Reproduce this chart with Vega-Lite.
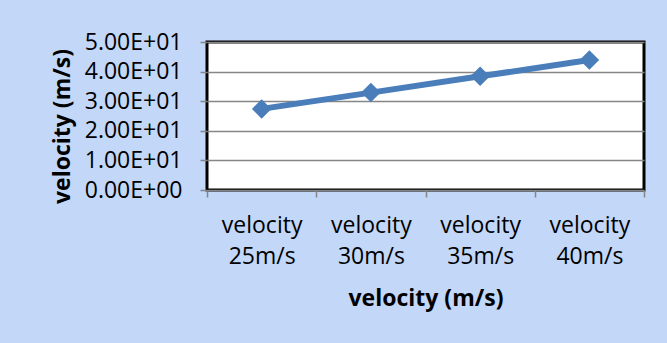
{
  "$schema": "https://vega.github.io/schema/vega-lite/v6.json",
  "width": 437,
  "height": 148,
  "autosize": {"type": "none"},
  "padding": {"left": 207, "top": 42, "right": 23, "bottom": 153},
  "background": "#c3d7f9",
  "config": {
    "view": {"fill": "white", "stroke": "black", "strokeWidth": 3},
    "font": "Open Sans"
  },
  "data": {
    "values": [
      {"category": "velocity 25m/s", "velocity": 27.4},
      {"category": "velocity 30m/s", "velocity": 32.9},
      {"category": "velocity 35m/s", "velocity": 38.4},
      {"category": "velocity 40m/s", "velocity": 43.9}
    ]
  },
  "encoding": {
    "x": {
      "field": "category",
      "type": "nominal",
      "sort": null,
      "bandPosition": 0.5,
      "scale": {"type": "band", "paddingInner": 0, "paddingOuter": 0},
      "axis": {
        "title": "velocity (m/s)",
        "labelAngle": 0,
        "labelExpr": "split(datum.label, ' ')",
        "labelFont": "Open Sans",
        "labelFontSize": 23,
        "labelColor": "black",
        "labelLineHeight": 31,
        "labelPadding": 17,
        "tickBand": "extent",
        "tickSize": 7,
        "tickColor": "#868686",
        "tickWidth": 1.5,
        "domain": false,
        "grid": false,
        "titleFont": "Open Sans",
        "titleFontSize": 23,
        "titleFontWeight": "bold",
        "titleColor": "black",
        "titlePadding": 19
      }
    },
    "y": {
      "field": "velocity",
      "type": "quantitative",
      "scale": {"domain": [0, 50]},
      "axis": {
        "title": "velocity (m/s)",
        "values": [0, 10, 20, 30, 40, 50],
        "labelExpr": "datum.value == 0 ? '0.00E+00' : format(datum.value / 10, '.2f') + 'E+01'",
        "labelFont": "Open Sans",
        "labelFontSize": 23,
        "labelColor": "black",
        "labelPadding": 18,
        "tickSize": 7,
        "tickColor": "#868686",
        "tickWidth": 1.5,
        "domain": false,
        "gridColor": "#868686",
        "gridWidth": 1.5,
        "titleFont": "Open Sans",
        "titleFontSize": 23,
        "titleFontWeight": "bold",
        "titleColor": "black",
        "titlePadding": 10,
        "titleY": 84
      }
    }
  },
  "layer": [
    {"mark": {"type": "line", "color": "#4a7ebb", "strokeWidth": 6}},
    {"mark": {"type": "point", "shape": "diamond", "filled": true, "size": 380, "color": "#4a7ebb", "opacity": 1}}
  ]
}
